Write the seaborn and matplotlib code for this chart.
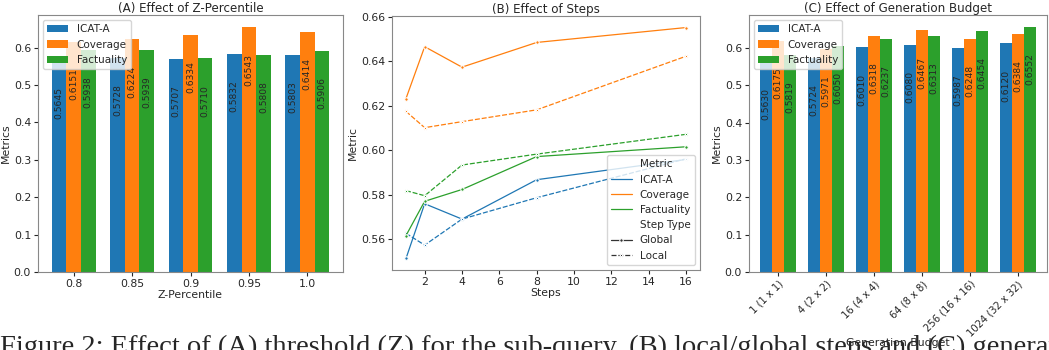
import seaborn as sns
import matplotlib.pyplot as plt
import pandas as pd

metrics = ["ICAT-A", "Coverage", "Factuality"]

# (A) Z-Percentile
z_pct = ["0.8", "0.85", "0.9", "0.95", "1.0"]
z_icat = [0.5645, 0.5728, 0.5707, 0.5832, 0.5803]
z_cov = [0.6151, 0.6224, 0.6334, 0.6543, 0.6414]
z_fact = [0.5938, 0.5939, 0.5710, 0.5808, 0.5906]

# (B) Steps
steps = [1, 2, 4, 8, 16]
g_icat = [0.5513, 0.5759, 0.5690, 0.5867, 0.5958]
g_cov = [0.6232, 0.6465, 0.6373, 0.6484, 0.6551]
g_fact = [0.5616, 0.5770, 0.5823, 0.5971, 0.6015]
l_icat = [0.5626, 0.5573, 0.5690, 0.5786, 0.5961]
l_cov = [0.6174, 0.6101, 0.6128, 0.6181, 0.6422]
l_fact = [0.5818, 0.5795, 0.5933, 0.5982, 0.6071]

# (C) Generation budget
budget = ["1 (1 x 1)", "4 (2 x 2)", "16 (4 x 4)", "64 (8 x 8)", "256 (16 x 16)", "1024 (32 x 32)"]
b_icat = [0.5630, 0.5724, 0.6010, 0.6080, 0.5987, 0.6120]
b_cov = [0.6175, 0.5971, 0.6318, 0.6467, 0.6248, 0.6384]
b_fact = [0.5819, 0.6050, 0.6237, 0.6313, 0.6454, 0.6552]

caption = ("Figure 2: Effect of (A) threshold (Z) for the sub-query, "
           "(B) local/global steps and (C) generation budget")

sns.set_style("ticks")
plt.rcParams["font.family"] = ["DejaVu Sans"]
palette = sns.color_palette("tab10", 3)

TICK = 7.8
LAB = 7.8
TITLE = 8.6
LEG = 7.5

W, H = 1049, 350
fig = plt.figure(figsize=(W / 100, H / 100), dpi=100)


def box(x0, x1, y0, y1):
    return [x0 / W, 1 - y1 / H, (x1 - x0) / W, (y1 - y0) / H]


ax1 = fig.add_axes(box(38, 343, 15, 272))
ax2 = fig.add_axes(box(392, 700, 16, 270))
ax3 = fig.add_axes(box(749, 1047, 15, 272))


def grouped(ax, cats, vals, xlabel, title):
    df = pd.DataFrame({
        "cat": [c for c in cats for _ in metrics],
        "Metric": metrics * len(cats),
        "val": [v for trio in zip(*vals) for v in trio],
    })
    sns.barplot(data=df, x="cat", y="val", hue="Metric", order=cats,
                hue_order=metrics, palette=palette, width=0.75,
                saturation=1, linewidth=0, ax=ax)
    for cont in ax.containers:
        for bar in cont:
            h = bar.get_height()
            ax.text(bar.get_x() + bar.get_width() / 2, h - 0.113, f"{h:.4f}",
                    rotation=90, ha="center", va="center", fontsize=6.6)
    n = len(cats)
    ax.set_xlim(-0.6125, n - 1 + 0.6125)
    ax.set_ylim(0, max(max(v) for v in vals) * 1.05)
    ax.set_xlabel(xlabel, fontsize=LAB, labelpad=1)
    ax.set_ylabel("Metrics", fontsize=LAB, labelpad=2)
    ax.set_title(title, fontsize=TITLE, pad=2)
    ax.legend(title=None, loc="upper left", fontsize=LEG)


grouped(ax1, z_pct, [z_icat, z_cov, z_fact], "Z-Percentile", "(A) Effect of Z-Percentile")
grouped(ax3, budget, [b_icat, b_cov, b_fact], "Generation Budget", "(C) Effect of Generation Budget")
ax3.set_xlabel("Generation Budget", fontsize=LAB, labelpad=0)

# (B) line plot
rows = []
for stype, series in [("Global", [g_icat, g_cov, g_fact]), ("Local", [l_icat, l_cov, l_fact])]:
    for m, ys in zip(metrics, series):
        for s, y in zip(steps, ys):
            rows.append({"Steps": s, "Metric": m, "Step Type": stype, "value": y})
lines = pd.DataFrame(rows)
sns.lineplot(data=lines, x="Steps", y="value", hue="Metric", style="Step Type",
             hue_order=metrics, palette=palette, markers=["o", "X"],
             markersize=2.5, linewidth=0.9, ax=ax2)
ax2.set_ylabel("Metric", fontsize=LAB, labelpad=2)
ax2.set_xlabel("Steps", fontsize=LAB, labelpad=1)
ax2.set_title("(B) Effect of Steps", fontsize=TITLE, pad=2)
ax2.set_yticks([0.56, 0.58, 0.60, 0.62, 0.64, 0.66])
ax2.set_xticks([2, 4, 6, 8, 10, 12, 14, 16])
ax2.legend(loc="lower right", fontsize=LEG)

for ax in (ax1, ax2, ax3):
    for sp in ax.spines.values():
        sp.set_visible(True)
        sp.set_color("#888888")
    ax.tick_params(labelsize=TICK, length=3, pad=2)
ax3.tick_params(axis="x", labelsize=7.2)
plt.setp(ax3.get_xticklabels(), rotation=45, ha="right", rotation_mode="anchor")

# caption of the paper figure, cut by the bottom edge as in the source image
fig.text(0.0, -4 / H, caption, ha="left", va="baseline", fontsize=20.5,
         family=["Liberation Serif"])

fig.savefig("out.png", dpi=100)
